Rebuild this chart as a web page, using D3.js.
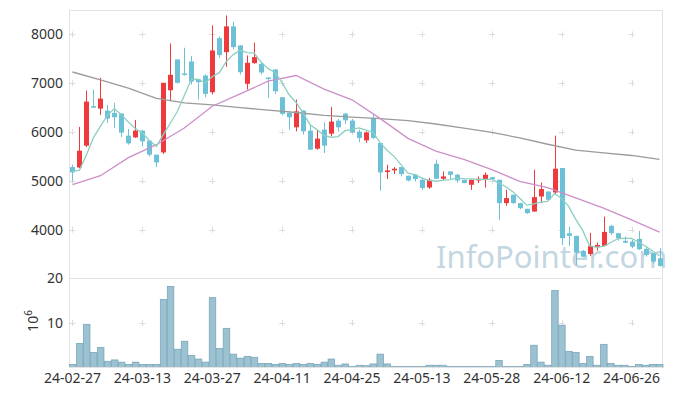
<!DOCTYPE html>
<html>
<head>
<meta charset="utf-8">
<script src="https://cdn.jsdelivr.net/npm/d3@7"></script>
<style>
  body { margin: 0; background: #fff; }
  text { font-family: "Noto Sans", sans-serif; }
</style>
</head>
<body>
<svg id="chart" width="673" height="396"></svg>
<script>
// ================= DATA =================
const dates = [
  "24-02-27","24-02-28","24-02-29","24-03-04","24-03-05","24-03-06","24-03-07","24-03-08","24-03-11","24-03-12",
  "24-03-13","24-03-14","24-03-15","24-03-18","24-03-19","24-03-20","24-03-21","24-03-22","24-03-25","24-03-26",
  "24-03-27","24-03-28","24-03-29","24-04-01","24-04-02","24-04-03","24-04-04","24-04-05","24-04-08","24-04-09",
  "24-04-11","24-04-12","24-04-15","24-04-16","24-04-17","24-04-18","24-04-19","24-04-22","24-04-23","24-04-24",
  "24-04-25","24-04-26","24-04-29","24-04-30","24-05-02","24-05-03","24-05-07","24-05-08","24-05-09","24-05-10",
  "24-05-13","24-05-14","24-05-16","24-05-17","24-05-20","24-05-21","24-05-22","24-05-23","24-05-24","24-05-27",
  "24-05-28","24-05-29","24-05-30","24-05-31","24-06-03","24-06-04","24-06-05","24-06-07","24-06-10","24-06-11",
  "24-06-12","24-06-13","24-06-14","24-06-17","24-06-18","24-06-19","24-06-20","24-06-21","24-06-24","24-06-25",
  "24-06-26","24-06-27","24-06-28","24-07-01","24-07-02"
];
const open = [
  5283,5275,5721,6530,6480,6439,6392,6378,5926,5891,
  6029,5823,5536,5583,6856,7487,7199,7446,7076,7158,
  6815,7924,7637,8164,7774,6988,7411,7398,7117,7281,
  6713,6392,6097,6439,6029,5659,6049,5967,6234,6378,
  6234,6008,5830,6290,5776,5181,5214,5283,5105,5125,
  5022,4864,5351,5043,5193,5125,5022,4920,5008,5022,
  5077,5022,4544,4715,4544,4427,4372,4680,4782,4762,
  5263,3928,3873,3565,3503,3641,3667,4078,3928,3770,
  3756,3811,3606,3517,3415
];
const high = [
  5331,6105,6850,6870,7111,6556,6598,6390,6064,6249,
  6035,5830,5540,7010,7815,7490,7727,7554,7080,7179,
  8185,7959,8390,8261,7780,7569,7830,7439,7120,7285,
  6715,6425,6665,6445,6152,6049,6199,6515,6269,6392,
  6269,6049,6014,6357,5780,5331,5283,5285,5110,5130,
  5060,5057,5433,5193,5195,5146,5025,5025,5091,5172,
  5080,5025,4817,4718,4550,4430,5228,4967,4785,5926,
  5265,4063,3875,3585,3935,3735,4269,4099,3930,3859,
  3791,3976,3653,3520,3620
];
const low = [
  4988,5260,5694,6490,6351,6187,6084,5900,5741,5879,
  5707,5501,5283,5550,6630,6994,7158,6973,6665,6713,
  6768,7522,7337,7692,7179,6871,7400,7179,6700,6782,
  6343,6049,6014,5947,5630,5639,5571,5912,6008,6166,
  5981,5789,5776,5858,4797,5037,5140,5091,4988,4988,
  4817,4838,5040,5008,5037,4955,4950,4817,4955,4864,
  5035,4201,4489,4530,4421,4325,4366,4544,4610,4715,
  3688,3667,3277,3435,3462,3571,3660,3893,3776,3722,
  3620,3585,3448,3312,3243
];
const close = [
  5173,5618,6624,6510,6686,6275,6302,5988,5768,6029,
  5809,5536,5378,7008,7172,7008,7170,7035,7021,6782,
  7671,7575,8164,7740,7226,7419,7534,7220,7090,6836,
  6372,6302,6425,6014,5639,5865,5721,6214,6097,6240,
  5994,5879,5994,5879,5173,5214,5249,5140,5008,5037,
  4852,5022,5043,5091,5125,5008,4955,5022,5043,5125,
  5037,4544,4647,4544,4441,4339,4667,4832,4612,5249,
  3825,3873,3530,3448,3667,3688,3955,3928,3825,3735,
  3653,3600,3483,3345,3257
];
// volume, millions of shares
const volume = [
  0.7,5.4,9.7,3.4,4.5,1.4,1.7,1.2,0.7,1.2,
  0.7,0.7,0.7,15.3,18.2,4.1,5.9,2.7,1.9,1.2,
  15.7,4.3,8.8,3.0,2.1,2.5,2.3,0.9,0.9,0.7,
  0.9,0.7,0.9,0.7,0.9,0.7,1.2,1.9,0.5,0.8,
  0.2,0.5,0.4,0.8,3.0,0.8,0.2,0.2,0.2,0.2,
  0.2,0.5,0.5,0.5,0.2,0.2,0.2,0.2,0.2,0.2,
  0.2,1.6,0.2,0.2,0.2,0.7,5.0,1.2,0.5,17.3,
  9.5,3.6,3.4,0.9,2.5,0.5,5.2,0.9,0.5,0.5,
  0.2,0.7,0.5,0.7,0.7
];
// first 5-day MA values (they need days before the window)
const ma5Start = [5193, 5220, 5536, 5885];
// longer moving averages, read at every 4th trading day
const maIdx = [0,4,8,12,16,20,24,28,32,36,40,44,48,52,56,60,64,68,72,76,80,84];
const ma20 = [4925,5105,5475,5741,6084,6528,6782,7041,7158,6880,6660,6280,5870,5610,5440,5230,4990,4860,4650,4440,4200,3950];
const ma60 = [7230,7070,6900,6690,6597,6555,6500,6450,6400,6340,6305,6275,6235,6165,6080,5995,5880,5750,5630,5575,5520,5440];

const priceTicks = [4000, 5000, 6000, 7000, 8000];
const volTicks = [10, 20];

// ================= LAYOUT =================
const L = 69, R = 663, T = 10, SPLIT = 278.5, B = 367.5;
const svg = d3.select("#chart");

const x = d3.scaleBand().domain(dates).range([L, R]).padding(0);
const bw = x.bandwidth();
const cx = i => x(dates[i]) + bw / 2;
const y = d3.scaleLinear().domain([3000, 8500]).range([SPLIT, T]);
const yv = d3.scaleLinear().domain([0, 20]).range([B, SPLIT]);

const dateTicks = dates.filter((d, i) => i % 10 === 0);

// frame
const frame = svg.append("g").attr("stroke", "#e3e3e3").attr("fill", "none");
frame.append("line").attr("x1", L).attr("x2", R).attr("y1", T + 0.5).attr("y2", T + 0.5);
frame.append("line").attr("x1", L + 0.5).attr("x2", L + 0.5).attr("y1", T).attr("y2", B);
frame.append("line").attr("x1", R - 0.5).attr("x2", R - 0.5).attr("y1", T).attr("y2", B);
frame.append("line").attr("x1", L).attr("x2", R).attr("y1", SPLIT).attr("y2", SPLIT);

// grid crosses
const cross = svg.append("g").attr("stroke", "#dcdcdc");
const crossPts = [];
dateTicks.forEach(d => {
  priceTicks.forEach(p => crossPts.push([x(d) + bw / 2, y(p)]));
  crossPts.push([x(d) + bw / 2, yv(10)]);
});
crossPts.forEach(([px, py]) => {
  cross.append("line").attr("x1", px - 3).attr("x2", px + 3).attr("y1", Math.round(py) + 0.5).attr("y2", Math.round(py) + 0.5);
  cross.append("line").attr("x1", Math.round(px) + 0.5).attr("x2", Math.round(px) + 0.5).attr("y1", py - 3).attr("y2", py + 3);
});

// watermark
svg.append("text")
  .attr("x", 436).attr("y", 268)
  .attr("font-size", 31)
  .attr("fill", "#c3d6e1")
  .text("InfoPointer.com");

// ================= CANDLES =================
const idx = d3.range(dates.length);
const up = i => close[i] >= open[i];
const RED = "#ee3a3c", BLUE = "#6cc1d7";

const candles = svg.append("g");
candles.selectAll("line.wick")
  .data(idx).enter().append("line")
  .attr("class", "wick")
  .attr("x1", i => Math.round(cx(i)) + 0.5)
  .attr("x2", i => Math.round(cx(i)) + 0.5)
  .attr("y1", i => y(high[i]))
  .attr("y2", i => y(low[i]))
  .attr("stroke", i => up(i) ? RED : BLUE);

candles.selectAll("rect.body")
  .data(idx).enter().append("rect")
  .attr("class", "body")
  .attr("x", i => Math.round(cx(i)) - 2)
  .attr("width", 5)
  .attr("y", i => y(Math.max(open[i], close[i])))
  .attr("height", i => Math.max(1.5, Math.abs(y(open[i]) - y(close[i]))))
  .attr("fill", i => up(i) ? RED : BLUE);

// ================= MOVING AVERAGES =================
const ma5 = idx.map(i => i < 4 ? ma5Start[i] : d3.mean(close.slice(i - 4, i + 1)));

const line = d3.line().x(d => d[0]).y(d => d[1]);
svg.append("path")
  .attr("d", line(maIdx.map((k, j) => [cx(k), y(ma60[j])])))
  .attr("fill", "none").attr("stroke", "#9b9b9b").attr("stroke-width", 1.3);
svg.append("path")
  .attr("d", line(maIdx.map((k, j) => [cx(k), y(ma20[j])])))
  .attr("fill", "none").attr("stroke", "#cc8fc9").attr("stroke-width", 1.3);
svg.append("path")
  .attr("d", line(idx.map(i => [cx(i), y(ma5[i])])))
  .attr("fill", "none").attr("stroke", "#8ccfc2").attr("stroke-width", 1.3);

// ================= VOLUME =================
svg.append("g").selectAll("rect")
  .data(idx).enter().append("rect")
  .attr("x", i => x(dates[i]) + 0.5)
  .attr("width", bw - 0.5)
  .attr("y", i => yv(volume[i]))
  .attr("height", i => B - yv(volume[i]))
  .attr("fill", "#9cc1d1")
  .attr("stroke", "#7aa7bb")
  .attr("stroke-width", 0.8);

svg.append("line")
  .attr("x1", L).attr("x2", R).attr("y1", B).attr("y2", B)
  .attr("stroke", "#e3e3e3");

// ================= AXES TEXT =================
const labels = svg.append("g").attr("fill", "#333").attr("font-size", 14);
priceTicks.forEach(p => {
  labels.append("text").attr("x", 63).attr("y", y(p)).attr("dy", "0.35em")
    .attr("text-anchor", "end").text(p);
});
volTicks.forEach(v => {
  labels.append("text").attr("x", 63).attr("y", yv(v)).attr("dy", "0.35em")
    .attr("text-anchor", "end").text(v);
});
dateTicks.forEach(d => {
  labels.append("text").attr("x", x(d) + bw / 2).attr("y", 383)
    .attr("text-anchor", "middle").text(d);
});

const unit = labels.append("text")
  .attr("transform", "translate(38,321) rotate(-90)")
  .attr("text-anchor", "middle");
unit.append("tspan").text("10");
unit.append("tspan").attr("dy", -6).attr("font-size", 10).text("6");
</script>
</body>
</html>
